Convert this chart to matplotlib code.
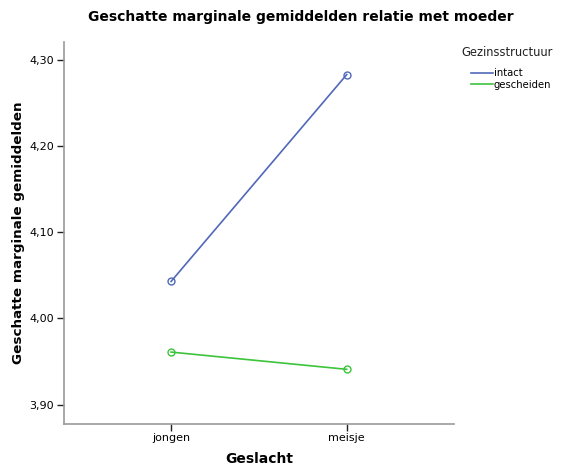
import matplotlib.pyplot as plt
from matplotlib.lines import Line2D

categories = ['jongen', 'meisje']
intact = [4.043, 4.283]
gescheiden = [3.961, 3.941]
yticks = [3.90, 4.00, 4.10, 4.20, 4.30]
ytick_labels = ['3,90', '4,00', '4,10', '4,20', '4,30']

fig = plt.figure(figsize=(5.61, 4.65), dpi=100)
ax = fig.add_axes([0.114, 0.089, 0.695, 0.821])

x = range(len(categories))
ax.plot(x, intact, color='#5068b8', lw=1.2, marker='o', ms=5, mfc='none', mec='#5068b8')
ax.plot(x, gescheiden, color='#3cc43c', lw=1.2, marker='o', ms=5, mfc='none', mec='#3cc43c')

ax.set_xlim(-0.61, 1.61)
ax.set_ylim(3.878, 4.321)
ax.set_xticks(list(x))
ax.set_xticklabels(categories, fontsize=8)
ax.set_yticks(yticks)
ax.set_yticklabels(ytick_labels, fontsize=8)
ax.tick_params(length=5, width=1, color='#222222', pad=2)

for s in ['top', 'right']:
    ax.spines[s].set_visible(False)
for s in ['left', 'bottom']:
    ax.spines[s].set_color('#999999')
    ax.spines[s].set_linewidth(1.2)

ax.set_xlabel('Geslacht', fontsize=10, fontweight='bold', labelpad=6)
ax.set_ylabel('Geschatte marginale gemiddelden', fontsize=9.7, fontweight='bold', labelpad=3)
fig.text(0.537, 0.963, 'Geschatte marginale gemiddelden relatie met moeder',
         ha='center', va='center', fontsize=10, fontweight='bold')

# legend title and entries placed separately so the entries are indented
fig.text(0.822, 0.888, 'Gezinsstructuur', ha='left', va='center', fontsize=8.3, color='#222222')
handles = [Line2D([], [], color='#5068b8', lw=1.2), Line2D([], [], color='#3cc43c', lw=1.2)]
leg = fig.legend(handles, ['intact', 'gescheiden'],
                 loc='upper left', bbox_to_anchor=(0.839, 0.853), frameon=False,
                 fontsize=7.2, handlelength=2.2, handletextpad=0.1,
                 labelspacing=0.15, borderaxespad=0, borderpad=0)

fig.savefig('out.png', dpi=100)
